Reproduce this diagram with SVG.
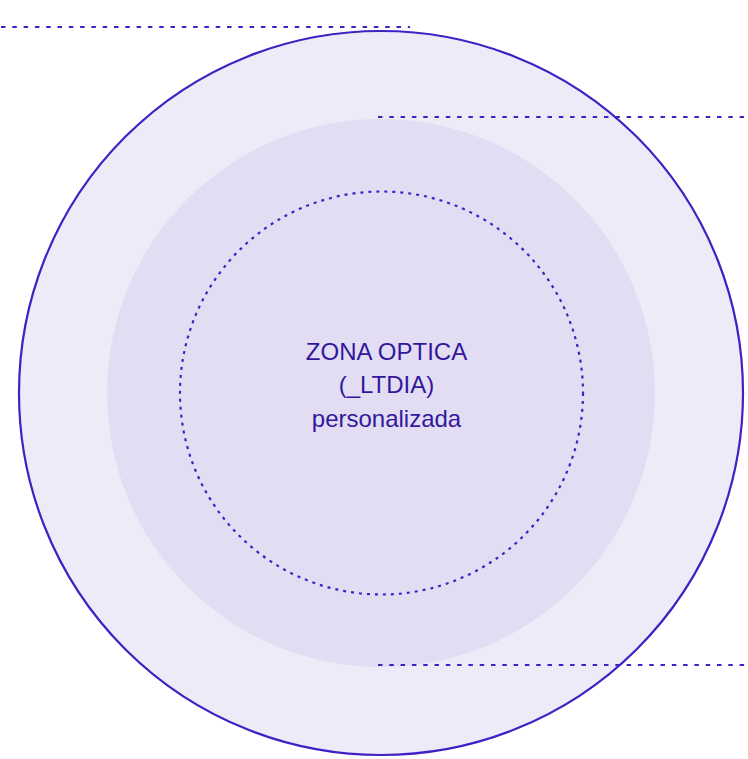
<svg xmlns="http://www.w3.org/2000/svg" width="748" height="759" viewBox="0 0 748 759">
<style>
.lead{stroke:#3d22c4;stroke-width:2.2;stroke-dasharray:4.5 6.8;fill:none}
.lbl{font-family:"Liberation Sans",Arial,sans-serif;font-size:24px;fill:#33189e;text-anchor:middle}
</style>
<rect width="748" height="759" fill="#ffffff"/>
<g id="outer-ring">
<circle cx="381" cy="393" r="362" fill="#eeebf8" stroke="#3d22c4" stroke-width="2.2"/>
</g>
<g id="transition-zone">
<circle cx="381" cy="393" r="274" fill="#e2ddf3"/>
</g>
<g id="optical-zone">
<circle cx="381.5" cy="393" r="201.5" fill="none" stroke="#3d22c4" stroke-width="2.2" stroke-dasharray="3 5"/>
<text class="lbl" x="386.5" y="359.5">ZONA OPTICA</text>
<text class="lbl" x="386.5" y="393">(_LTDIA)</text>
<text class="lbl" x="386.5" y="426.5">personalizada</text>
</g>
<g id="connectors">
<line class="lead" x1="1" y1="27" x2="410" y2="27"/>
<line class="lead" x1="378" y1="117" x2="748" y2="117"/>
<line class="lead" x1="378" y1="665" x2="748" y2="665"/>
</g>
</svg>
